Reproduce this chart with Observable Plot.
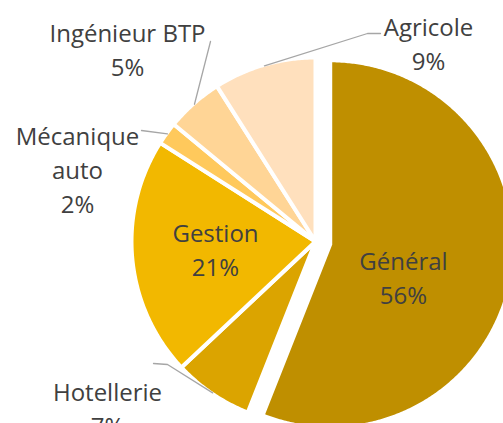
<!DOCTYPE html>
<html><head><meta charset="utf-8">
<script src="https://cdn.jsdelivr.net/npm/d3@7"></script>
<script src="https://cdn.jsdelivr.net/npm/@observablehq/plot@0.6"></script>
<style>html,body{margin:0;padding:0;background:#fff;overflow:hidden}</style>
</head><body><div id="chart"></div>
<script>
// ---- data ----
const categories = ["Général", "Hotellerie", "Gestion", "Mécanique auto", "Ingénieur BTP", "Agricole"];
const values = [56, 7, 21, 2, 5, 9];
const labelNames = ["Général", "Hotellerie", "Gestion", "Mécanique\nauto", "Ingénieur BTP", "Agricole"];
const colors = ["#BF8F00", "#DBA400", "#F2B800", "#FFC95C", "#FFD596", "#FFE0BD"];

// ---- layout (pixels) ----
const W = 503, H = 423;
const cx = 315, cy = 241, R = 184;
const explode = [15, 0, 0, 0, 0, 0];
const labelPos = [
  [403, 276], [107, 407], [215, 248], [77, 168], [127, 48], [428, 42]
];
const leaderPath = [
  null,
  [[167, 364], [153, 363]],
  null,
  [[141, 130]],
  [[210, 41]],
  [[367, 33], [380, 33]]
];

const rows = categories.map((name, i) => ({name, value: values[i], i}));
const arcs = d3.pie().sort(null).value(d => d.value)(rows);

const slicePts = [];
const leaderPts = [];
arcs.forEach(a => {
  const i = a.data.i, mid = (a.startAngle + a.endAngle) / 2;
  const ox = cx + explode[i] * Math.sin(mid), oy = cy - explode[i] * Math.cos(mid);
  const name = a.data.name;
  slicePts.push({name, x: ox, y: oy});
  const n = Math.max(2, Math.ceil((a.endAngle - a.startAngle) / (Math.PI / 360)));
  for (let k = 0; k <= n; k++) {
    const t = a.startAngle + (a.endAngle - a.startAngle) * k / n;
    slicePts.push({name, x: ox + R * Math.sin(t), y: oy - R * Math.cos(t)});
  }
  slicePts.push({name, x: ox, y: oy});
  if (leaderPath[i]) {
    const r0 = R - 1;
    leaderPts.push({name, x: ox + r0 * Math.sin(mid), y: oy - r0 * Math.cos(mid)});
    leaderPath[i].forEach(p => leaderPts.push({name, x: p[0], y: p[1]}));
  }
});

const labelRows = rows.map(d => ({
  text: labelNames[d.i] + "\n" + d.value + "%",
  x: labelPos[d.i][0], y: labelPos[d.i][1]
}));

const chart = Plot.plot({
  width: W, height: H, margin: 0,
  x: {domain: [0, W], range: [0, W], axis: null},
  y: {domain: [0, H], range: [0, H], axis: null},
  color: {type: "ordinal", domain: categories, range: colors},
  style: {background: "white", overflow: "hidden", fontFamily: "'Open Sans', sans-serif"},
  marks: [
    Plot.line(slicePts, {x: "x", y: "y", z: "name", fill: "name", stroke: "white", strokeWidth: 4, strokeLinejoin: "round"}),
    Plot.line(leaderPts, {x: "x", y: "y", z: "name", stroke: "#A6A6A6", strokeWidth: 1.3}),
    Plot.text(labelRows, {x: "x", y: "y", text: "text", fontSize: 24, lineHeight: 1.42, fill: "#404040", fontFamily: "'Open Sans', sans-serif"})
  ]
});
document.getElementById("chart").append(chart);
</script>
</body></html>
